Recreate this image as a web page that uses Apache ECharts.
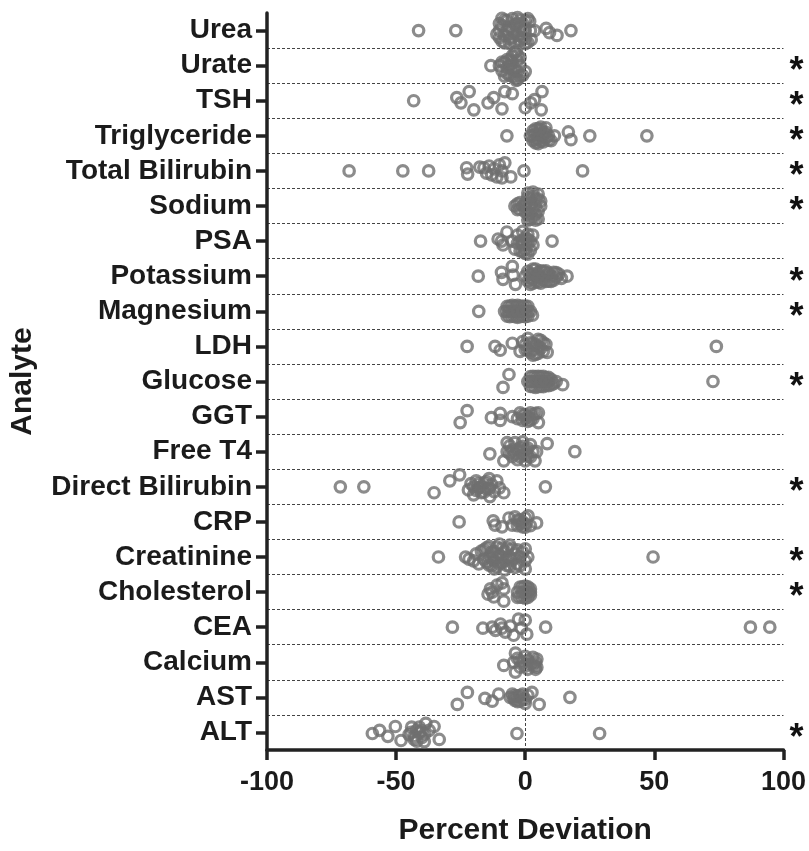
<!DOCTYPE html>
<html>
<head>
<meta charset="utf-8">
<script src="https://cdn.jsdelivr.net/npm/echarts@6/dist/echarts.min.js"></script>
<style>
html,body{margin:0;padding:0;background:#fff;}
#chart{width:809px;height:851px;}
</style>
</head>
<body>
<div id="chart"></div>
<script>
// Categories, top to bottom
const analytes = ['Urea','Urate','TSH','Triglyceride','Total Bilirubin','Sodium','PSA','Potassium','Magnesium','LDH','Glucose','GGT','Free T4','Direct Bilirubin','CRP','Creatinine','Cholesterol','CEA','Calcium','AST','ALT'];
// Analytes marked with an asterisk
const significant = ['Urate','TSH','Triglyceride','Total Bilirubin','Sodium','Potassium','Magnesium','Glucose','Direct Bilirubin','Creatinine','Cholesterol','ALT'];
const xTicks = [-100, -50, 0, 50, 100];

// Each point: [percent deviation, vertical jitter within row (row units)]
const urea = [[-41.3,0],[-26.9,0],[-10,0],[-9,-0.14],[-8,0.14],[-7,-0.28],[-6,0.23],[-5,-0.34],[-5,0],[-4,0.34],[-4,-0.17],[-3,0.14],[-3,-0.37],[-2,0.28],[-2,-0.09],[-1,0],[0,-0.28],[0,0.23],[1,-0.34],[1,0.34],[2,0],[1.7,-0.26],[2.3,0.26],[3.6,0],[8.1,-0.06],[9.4,0.06],[12.3,0.14],[17.7,0],
  [-10,-0.2],[-10,0.2],[-9,0.3],[-8,-0.3],[-7,0],[-6,-0.1],[-6,0.37],[-5,0.2],[-4,0.05],[-3,-0.2],[-2,-0.3],[-1,0.2],[-1,-0.2],[0,0],[-11,0.1],[0,0.37],[-8,0.35],[-9,-0.35]];
const urate = [[-13.3,0],[-10,0],[-9,0.14],[-8,-0.09],[-7,0.23],[-7,-0.17],[-6,0],[-6,0.28],[-5,-0.28],[-5,0.11],[-4,-0.37],[-4,0.34],[-3,-0.14],[-3,0.17],[-3,0.4],[-2,0],[-2,-0.23],[-1,0.28],[0,0.17],
  [-9,-0.1],[-8,0.3],[-7,0.05],[-5,-0.1],[-4,0.1],[-3,-0.3],[-2,0.3],[-5,0.3],[-6,-0.15],[-3.5,0.42],[-3.5,-0.42]];
const tsh = [[-43.2,0],[-26.5,-0.09],[-24.9,0.06],[-21.7,-0.26],[-19.9,0.26],[-14.4,0.06],[-12.2,-0.09],[-9.0,0.23],[-7.9,-0.26],[-5.0,-0.2],[0,0.2],[2.1,0.06],[3.6,-0.03],[6.5,-0.26],[6.2,0.26]];
const triglyceride = [[-7.1,0],[2,0],[3,-0.14],[3,0.14],[4,-0.06],[4,0.2],[5,-0.2],[5,0.09],[6,0],[6,-0.17],[7,0.17],[7,-0.09],[8,0.06],[8,-0.23],[9,0],[10,0.14],[11.3,0],[16.7,-0.11],[17.7,0.11],[25.0,0],[47.1,0],
  [3,0],[4,0.1],[5,-0.05],[6,0.15],[7,0],[8,-0.1],[9,0.12],[6,-0.25],[5,0.22],[4,-0.2]];
const totalBilirubin = [[-68.2,0],[-47.4,0],[-37.4,0],[-22.3,0.09],[-22.7,-0.09],[-17.6,-0.11],[-16,-0.09],[-15,0.06],[-14,-0.14],[-13,0.11],[-12,-0.06],[-11,0.17],[-10,-0.17],[-9,0],[-9,0.2],[-7.9,-0.23],[-5.6,0.17],[-0.5,0],[22.2,0]];
const sodium = [[1,-0.37],[3,-0.4],[5,-0.34],[2,-0.2],[4,-0.2],[6,-0.14],[-4,0],[-3,-0.06],[-2,0.09],[-1,0],[0,-0.09],[1,0.06],[0,0.17],[2,0.2],[3,0.34],[4,0.23],[5,0.37],[1,0.4],
  [0,0],[1,-0.25],[2,-0.05],[3,0.1],[4,0],[5,0.15],[3,-0.28],[2,0.38],[4,0.4],[-2,-0.1],[-3,0.1],[5,-0.2],[6,0],[1,0.25]];
const psa = [[-17.3,0],[-10.5,-0.06],[-9.2,0],[-8.6,0.11],[-7.1,-0.26],[-5.0,0],[-4,0.23],[-3,-0.17],[-3,0.06],[-2,0.28],[-1,-0.28],[-1,0.11],[0,-0.09],[0,0.23],[1,0.37],[1,-0.2],[2,0],[2,0.26],[2.9,-0.17],[3,0.11],[10.4,0],
  [-1,0],[0,0.05],[1,0.1],[-2,0],[0,0.35],[-1,0.3],[1,-0.05]];
const potassium = [[-18.2,0],[-9.2,-0.11],[-8.6,0.09],[-5,-0.28],[-4.7,-0.03],[-3.8,0.23],[0,0],[1,-0.14],[1,0.14],[2,-0.06],[2,0.23],[3,-0.2],[3,0.09],[4,0],[5,-0.11],[5,0.17],[6,0.03],[7,-0.14],[7,0.11],[8,0],[9,-0.09],[9,0.14],[10,0],[11,-0.11],[11,0.11],[12,0.03],[13,-0.06],[14,0.06],[16.2,0],
  [2,0.05],[3,-0.05],[4,0.15],[5,0],[6,-0.15],[6,0.2],[8,0.15],[8,-0.15],[10,0.15],[12,-0.1],[4,-0.2],[3,0.2]];
const magnesium = [[-18.0,0],[-8,0],[-7,-0.14],[-7,0.14],[-6,0],[-5,-0.17],[-5,0.14],[-4,0],[-3,-0.17],[-3,0.17],[-2,0],[-1,-0.14],[-1,0.14],[0,0],[1,-0.14],[1,0.14],[2,0],[2.8,0.11],
  [-7,0],[-6,-0.15],[-6,0.15],[-4,-0.15],[-4,0.15],[-2,-0.15],[-2,0.15],[0,-0.15],[0,0.15],[-5,0],[-3,0],[-1,0],[1,0]];
const ldh = [[-22.5,0],[-11.7,0],[-9.7,0.11],[-5.0,-0.09],[-2,0.14],[-1,-0.14],[0,0.09],[1,-0.23],[2,0.17],[3,-0.09],[4,0.23],[5,0],[6,-0.17],[7,0.14],[8,-0.06],[8.5,0.17],[74.0,0],
  [0,-0.05],[1,0.1],[2,-0.1],[3,0.1],[4,-0.05],[5,0.2],[6,0.05],[7,-0.1],[3,0.25],[5,-0.2]];
const glucose = [[-6.3,-0.2],[-8.6,0.17],[1,0],[2,-0.14],[2,0.14],[3,0],[4,-0.14],[4,0.17],[5,0],[6,-0.14],[6,0.14],[7,0],[8,-0.11],[8,0.11],[9,0],[10,-0.06],[11,0.06],[12,0],[14.5,0.09],[72.7,0],
  [2,0],[3,-0.15],[3,0.15],[5,-0.15],[5,0.15],[7,-0.15],[7,0.15],[9,-0.12],[9,0.12],[10,0.1],[4,0],[6,0],[8,0]];
const ggt = [[-22.5,-0.17],[-25.2,0.17],[-13.1,0.03],[-9.7,-0.09],[-9.7,0.11],[-5,0],[-3,0.06],[-2,-0.11],[-1,0.11],[0,-0.06],[1,0.14],[2,-0.11],[3,0.06],[4,-0.09],[5.1,-0.11],[5.1,0.17],
  [0,0.05],[1,0],[2,0.1],[3,-0.05],[-1,-0.05]];
const freeT4 = [[-13.7,0.06],[-8.3,0.26],[-7.0,-0.26],[-7,0],[-6,-0.17],[-5,0.14],[-4,-0.26],[-4,0.06],[-3,0.23],[-2,-0.11],[-1,0.09],[-1,-0.28],[0,0.26],[0,-0.06],[1,0.14],[2,-0.2],[3,0],[3.8,0.26],[4.4,0],[8.5,-0.23],[19.2,0],
  [-6,0.05],[-5,-0.05],[-3,-0.05],[-2,0.15],[0,0.1],[1,-0.1],[2,0.15],[-1,-0.15]];
const directBilirubin = [[-71.6,0],[-62.5,0],[-35.3,0.17],[-29.2,-0.17],[-25.4,-0.34],[-22,0.09],[-21,-0.09],[-20,0.23],[-19,-0.17],[-18,0.03],[-17,0.17],[-16,-0.11],[-15,0.06],[-14,-0.23],[-13.7,0.28],[-13,-0.06],[-12,0.14],[-11,-0.17],[-10,0.03],[-8.3,0.17],[7.8,0],
  [-19,0.1],[-18,-0.1],[-17,0],[-16,0.15],[-15,-0.15],[-14,0.05],[-20,0]];
const crp = [[-25.6,0],[-12.4,-0.03],[-11.7,0.09],[-9.0,0.14],[-6.3,-0.11],[-5,0.09],[-4,-0.14],[-3,0.11],[-2,-0.06],[-1,0.14],[0,-0.11],[0,0.06],[1.1,-0.17],[2,0.11],[4.4,0.03],
  [-1,0],[0,0.15],[-3,-0.05],[-2,0.05]];
const creatinine = [[-33.6,0],[-23.1,0],[-21.8,0.06],[-20,0.11],[-19,-0.09],[-18,0.2],[-17,-0.17],[-16,0.06],[-15,-0.26],[-14,0.23],[-14,0],[-13,-0.14],[-12,0.11],[-12,0.34],[-11,-0.28],[-11,0.28],[-10,-0.06],[-10,-0.37],[-9,0.17],[-8,-0.17],[-8,0.37],[-7,0.03],[-6,0.26],[-6,-0.34],[-5,-0.23],[-5,0.09],[-4,-0.09],[-3,0.2],[-2,0],[-1,-0.14],[0,0.11],[0,-0.23],[1,0],[0,0.34],[49.5,0],
  [-16,-0.2],[-15,0.15],[-13,0.25],[-13,0.05],[-12,-0.15],[-10,0.2],[-9,-0.25],[-9,0],[-8,0.1],[-7,-0.25],[-7,0.25],[-6,0],[-4,0.3],[-3,-0.2],[-2,0.25],[-14,-0.3],[-11,0]];
const cholesterol = [[-14.4,0.06],[-13.5,-0.09],[-12.8,0],[-12.2,0.14],[-10.9,-0.2],[-9.0,-0.26],[-8.3,-0.09],[-8.3,0.26],[-3,0],[-2,-0.14],[-2,0.14],[-1,0],[0,-0.17],[0,0.17],[1,0],[2,-0.09],[2,0.09],
  [-3,0.15],[-1,0.15],[-1,-0.15],[1,-0.15],[1,0.15],[0,0],[2,0]];
const cea = [[-28.2,0],[-16.4,0.03],[-12.8,0],[-11.5,0.09],[-9.6,-0.09],[-9.0,0.03],[-7.7,0.14],[-5.8,-0.03],[-4.5,0.23],[-2.6,-0.23],[-1.5,0.03],[0,-0.2],[0.6,0.2],[7.9,0],[87.2,0],[94.7,0]];
const calcium = [[-8.3,0.09],[-4.5,0],[-3.8,-0.26],[-3.8,0.28],[-3,-0.11],[-2,0.14],[-1,0],[0,-0.17],[0,0.11],[1,-0.06],[3,-0.14],[3.5,0.11],[4,0],[4.5,-0.09],[4.5,0.14],
  [2,0.05],[3,0.05],[4,0.2],[1,0.2],[-2,-0.05]];
const ast = [[-26.3,0.2],[-22.4,-0.14],[-15.6,0.03],[-12.8,0.11],[-10.3,-0.09],[-5.8,0],[-4.5,0.03],[-5,-0.09],[-4,0.09],[-3,-0.03],[-2,0.11],[-1,-0.09],[0,0.06],[0,0.17],[1,-0.06],[2.6,-0.14],[5.4,0.2],[17.3,0],
  [-2,-0.05],[-3,0.12],[-1,0.05],[-4,-0.05]];
const alt = [[-59.2,0.03],[-56.4,-0.06],[-53.2,0.11],[-50.3,-0.17],[-48.1,0.23],[-45,0.06],[-44.2,0],[-42.9,0.11],[-42.1,-0.06],[-41,0],[-40,0.14],[-39.1,0.26],[-38.5,-0.26],[-37.2,-0.06],[-35.3,-0.17],[-33.3,0.2],[-3.2,0.03],[28.8,0.03],
  [-44,-0.15],[-43,0.2],[-41,-0.15],[-40,-0.05],[-39,0.05],[-42,0.25]];

const rows = [urea, urate, tsh, triglyceride, totalBilirubin, sodium, psa, potassium, magnesium, ldh, glucose, ggt, freeT4, directBilirubin, crp, creatinine, cholesterol, cea, calcium, ast, alt];

const points = [];
rows.forEach((arr, i) => arr.forEach(p => points.push([p[0], i + p[1]])));
const starPoints = significant.map(name => [xTicks[xTicks.length - 1], analytes.indexOf(name)]);

const FONT = "'Liberation Sans', Arial, Helvetica, sans-serif";
const INK = '#1b1b1b';

const chart = echarts.init(document.getElementById('chart'), null, {renderer: 'canvas'});
chart.setOption({
  animation: false,
  backgroundColor: '#ffffff',
  grid: {left: 265.5, right: 22.5, top: 13, bottom: 99, containLabel: false},
  xAxis: {
    type: 'value', min: xTicks[0], max: xTicks[xTicks.length - 1], interval: 50,
    name: 'Percent Deviation', nameLocation: 'middle', nameGap: 66,
    nameTextStyle: {fontFamily: FONT, fontSize: 30, fontWeight: 'bold', color: INK},
    axisLine: {show: true, onZero: false, lineStyle: {color: '#222', width: 3.5}},
    axisTick: {show: true, length: 10, lineStyle: {color: '#222', width: 3.5}},
    axisLabel: {fontFamily: FONT, fontSize: 27, fontWeight: 'bold', color: INK, margin: 19},
    splitLine: {show: false}
  },
  yAxis: [
    {
      type: 'category', data: analytes, inverse: true, boundaryGap: true, position: 'left',
      name: 'Analyte', nameLocation: 'middle', nameGap: 229, nameRotate: 90,
      nameTextStyle: {fontFamily: FONT, fontSize: 30, fontWeight: 'bold', color: INK},
      axisLine: {show: true, onZero: false, lineStyle: {color: '#222', width: 3.5}},
      axisTick: {show: true, alignWithLabel: true, length: 11, lineStyle: {color: '#222', width: 3.5}},
      axisLabel: {fontFamily: FONT, fontSize: 28, fontWeight: 'bold', color: INK, margin: 15, interval: 0},
      splitLine: {show: true, showMinLine: false, showMaxLine: false, lineStyle: {color: '#444', width: 1, type: [3, 2]}}
    },
    {
      type: 'value', show: false, min: -0.5, max: analytes.length - 0.5, inverse: true,
      axisLine: {onZero: false}
    }
  ],
  series: [{
    type: 'scatter',
    yAxisIndex: 1,
    data: points,
    symbol: 'circle',
    symbolSize: 10.5,
    itemStyle: {color: 'rgba(0,0,0,0)', borderColor: '#6f6f6f', borderWidth: 3.2},
    emphasis: {disabled: true},
    markLine: {
      silent: true, symbol: ['none', 'none'], label: {show: false},
      lineStyle: {color: '#444', width: 1, type: [3, 2]},
      data: [{xAxis: 0}]
    }
  }, {
    type: 'scatter',
    yAxisIndex: 1,
    data: starPoints,
    symbolSize: 0,
    clip: false,
    silent: true,
    itemStyle: {color: 'rgba(0,0,0,0)', opacity: 1},
    label: {
      show: true, position: 'right', distance: 6, offset: [0, 6.5],
      formatter: '*', fontFamily: FONT, fontSize: 36, fontWeight: 'bold', color: '#111',
      textBorderWidth: 0
    }
  }]
});
</script>
</body>
</html>
